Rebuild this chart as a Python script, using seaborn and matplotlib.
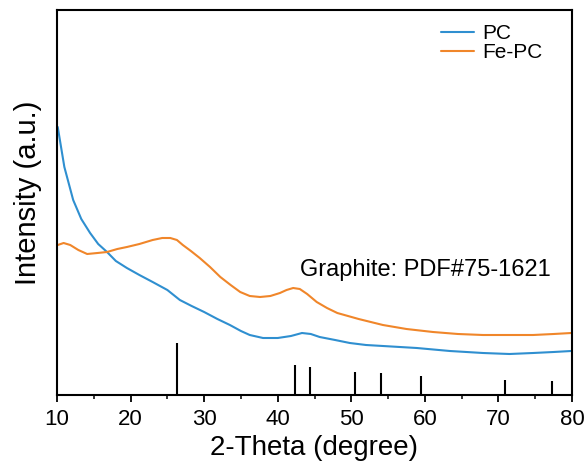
import matplotlib
matplotlib.use("Agg")
import matplotlib.pyplot as plt
import seaborn as sns
import pandas as pd
from matplotlib.ticker import MultipleLocator

sns.set_theme(style="white")
plt.rcParams['font.family'] = ['Liberation Sans', 'DejaVu Sans']
plt.rcParams['text.color'] = 'black'

# PC curve (2-theta, intensity a.u.)
pc_x = [10.1, 11.0, 12.2, 13.3, 14.5, 15.6, 16.8, 18.0, 19.5, 21.2, 23.0, 25.0, 26.7, 28.3, 30.0,
        31.8, 33.5, 35.0, 36.2, 38.0, 40.0, 41.8, 43.3, 44.5, 45.7, 47.8, 49.8, 52.0, 54.3,
        58.9, 63.4, 67.9, 71.5, 74.7, 77.5, 79.9]
pc_y = [268, 228, 195, 176, 162, 151, 143, 134, 127, 120, 113, 105, 95, 89, 83,
        76, 70, 64, 60, 57, 57, 59, 62, 61, 58, 55, 52, 50, 49,
        47, 44, 42, 41, 42, 43, 44]

# Fe-PC curve
fepc_x = [10.1, 10.9, 11.8, 12.9, 14.1, 15.5, 16.8, 18.2, 19.5, 21.2, 23.0, 24.3, 25.4, 26.3, 27.1,
          28.2, 29.4, 30.8, 32.2, 33.6, 34.9, 36.2, 37.6, 39.0, 40.3, 41.2, 42.1, 43.0, 44.0,
          45.3, 46.7, 48.1, 51.0, 54.3, 57.5, 61.1, 64.5, 67.9, 71.5, 74.7, 77.5, 79.9]
fepc_y = [150, 152, 150, 145, 141, 142, 143, 146, 148, 151, 155, 157, 157, 155, 150,
          144, 137, 128, 118, 110, 103, 99, 98, 99, 102, 105, 107, 106, 101,
          93, 87, 82, 76, 70, 66, 63, 61, 60, 60, 60, 61, 62]

# Graphite reference PDF#75-1621 stick pattern
ref_x = [26.3, 42.3, 44.4, 50.5, 54.1, 59.5, 70.9, 77.3]
ref_h = [52, 30, 28, 23, 22, 19, 15, 14]

df = pd.concat([
    pd.DataFrame({"x": pc_x, "y": pc_y, "s": "PC"}),
    pd.DataFrame({"x": fepc_x, "y": fepc_y, "s": "Fe-PC"}),
])

fig = plt.figure(figsize=(5.88, 4.67), dpi=100)
ax = fig.add_axes([57/588, 1-395/467, 515/588, 385/467])

sns.lineplot(data=df, x="x", y="y", hue="s", sort=False, ax=ax,
             palette={"PC": "#2f8fd0", "Fe-PC": "#f0862a"}, linewidth=1.5)
ax.vlines(ref_x, 0, ref_h, colors="black", linewidth=1.5)

ax.set_xlim(10, 80)
ax.set_ylim(0, 385)
ax.xaxis.set_major_locator(MultipleLocator(10))
ax.xaxis.set_minor_locator(MultipleLocator(5))
ax.set_yticks([])
ax.tick_params(axis='x', which='major', direction='out', length=5, width=1.3,
               labelsize=16, bottom=True, colors='black', pad=5)
ax.tick_params(axis='x', which='minor', direction='out', length=3, width=1.3, bottom=True)
for sp in ax.spines.values():
    sp.set_color('black')
    sp.set_linewidth(1.5)

ax.set_xlabel("2-Theta (degree)", fontsize=20, labelpad=4, color='black')
ax.set_ylabel("Intensity (a.u.)", fontsize=21, color='black')
ax.yaxis.set_label_coords(-0.03, 0.525)
ax.yaxis.label.set_va('bottom')

ax.text(43.03, 125, "Graphite: PDF#75-1621", fontsize=17, ha='left', va='center', color='black')

leg = ax.legend(title=None, frameon=False, loc='upper left', fontsize=15,
                handlelength=1.6, handletextpad=0.4, labelspacing=0.0,
                borderpad=0, borderaxespad=0,
                bbox_to_anchor=(441/588, 1-24/467), bbox_transform=fig.transFigure)
for t in leg.get_texts():
    t.set_color('black')

fig.savefig("out.png", dpi=100)
